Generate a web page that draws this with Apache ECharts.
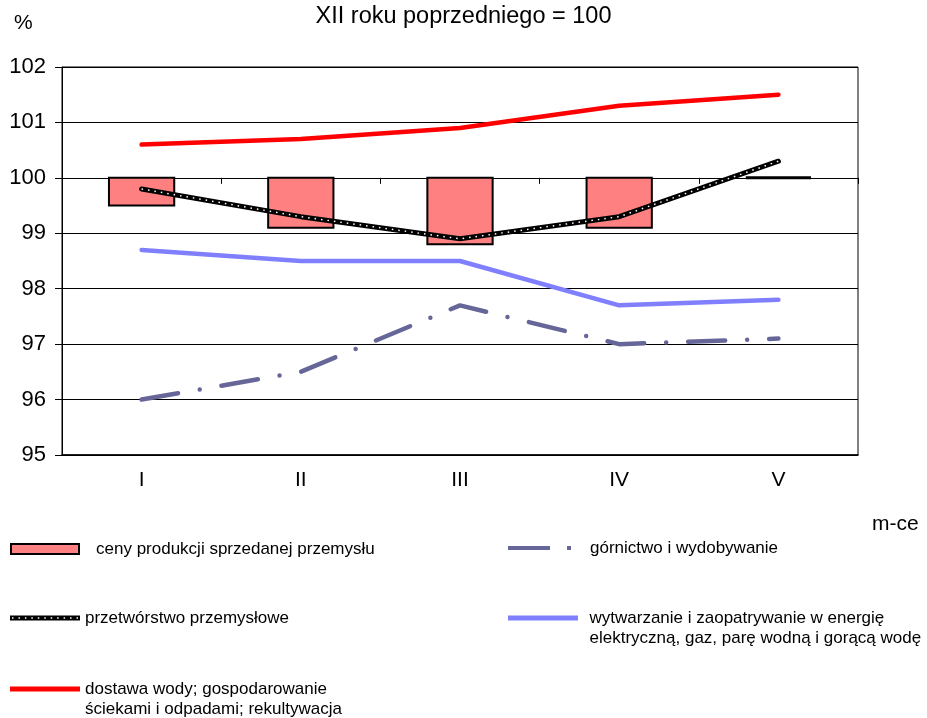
<!DOCTYPE html>
<html>
<head>
<meta charset="utf-8">
<script src="https://cdn.jsdelivr.net/npm/echarts@6/dist/echarts.min.js"></script>
<style>
html,body{margin:0;padding:0;background:#fff;}
#c{width:927px;height:718px;}
</style>
</head>
<body>
<div id="c"></div>
<script>
var categories = ['I', 'II', 'III', 'IV', 'V'];
var cenyProdukcji = [99.5, 99.1, 98.8, 99.1, 100.0];
var przetworstwo = [99.8, 99.3, 98.9, 99.3, 100.3];
var dostawaWody = [100.6, 100.7, 100.9, 101.3, 101.5];
var wytwarzanie = [98.7, 98.5, 98.5, 97.7, 97.8];
var gornictwo = [96.0, 96.5, 97.7, 97.0, 97.1];
var yTicks = [95, 96, 97, 98, 99, 100, 101, 102];
var BASE = 100;

var names = {
  ceny: 'ceny produkcji sprzedanej przemysłu',
  przetw: 'przetwórstwo przemysłowe',
  przetwDots: 'przetwórstwo przemysłowe ',
  dostawa: 'dostawa wody; gospodarowanie\nściekami i odpadami; rekultywacja',
  gorn: 'górnictwo i wydobywanie',
  wytw: 'wytwarzanie i zaopatrywanie w energię\nelektryczną, gaz, parę wodną i gorącą wodę'
};

var FONT = '"Liberation Sans", Arial, sans-serif';
var LFS = 17;
var gridTop = 67, gridH = 388, gridLeft = 62, gridW = 796;
var yMin = yTicks[0], yMax = yTicks[yTicks.length - 1];

// legend icon shapes
var barIconLine = 'path://M0,0H70V5H0Z';
var dashDotIcon = 'path://M0,0H42V4H0Z M59,0H63V4H59Z';
var dotsIcon = (function () {
  var s = 'path://';
  for (var i = 0; i <= 10; i++) {
    var x = (i * 6.45).toFixed(2);
    s += 'M' + x + ',0h1.5v1.5h-1.5Z ';
  }
  return s;
})();

var chart = echarts.init(document.getElementById('c'), null, {renderer: 'canvas'});

function lg(data, left, top, w, h, extra) {
  var o = {
    data: data,
    left: left, top: top,
    orient: 'vertical',
    padding: 0,
    itemWidth: w, itemHeight: h,
    itemGap: 0,
    selectedMode: false,
    textStyle: {fontSize: LFS, color: '#000', fontFamily: FONT, lineHeight: 20}
  };
  for (var k in extra) o[k] = extra[k];
  return o;
}
function firstLineAligned(name) { return '\n' + name; }

var option = {
  animation: false,
  backgroundColor: '#fff',
  title: [
    {text: 'XII roku poprzedniego = 100', left: 'center', top: 0,
     textStyle: {fontSize: 23.5, fontWeight: 'normal', color: '#000', fontFamily: FONT}},
    {text: '%', left: 9, top: 8,
     textStyle: {fontSize: 21, fontWeight: 'normal', color: '#000', fontFamily: FONT}},
    {text: 'm-ce', left: 867, top: 509,
     textStyle: {fontSize: 21, fontWeight: 'normal', color: '#000', fontFamily: FONT}}
  ],
  legend: [
    lg([{name: names.ceny, icon: 'rect'}], 10, 539, 68, 10, {
      textStyle: {fontSize: LFS, color: '#000', fontFamily: FONT, lineHeight: 20, padding: [0, 0, 0, 12]}
    }),
    lg([{name: names.przetw, icon: barIconLine, itemStyle: {color: '#000'}}], 10, 608, 70, 5, {}),
    lg([{name: names.przetwDots, icon: dotsIcon, itemStyle: {color: '#fff'}}], 12, 617.25, 66, 1.5, {
      formatter: function () { return ''; },
      textStyle: {fontSize: 1, lineHeight: 1}
    }),
    lg([{name: names.dostawa, icon: barIconLine, itemStyle: {color: '#FF0000'}}], 10, 659, 70, 5, {
      formatter: firstLineAligned
    }),
    lg([{name: names.gorn, icon: dashDotIcon, itemStyle: {color: '#666699'}}], 508, 538, 63, 4, {
      textStyle: {fontSize: LFS, color: '#000', fontFamily: FONT, lineHeight: 20, padding: [0, 0, 0, 14]}
    }),
    lg([{name: names.wytw, icon: barIconLine, itemStyle: {color: '#8080FF'}}], 508, 588, 71, 5, {
      formatter: firstLineAligned,
      textStyle: {fontSize: LFS, color: '#000', fontFamily: FONT, lineHeight: 20, padding: [0, 0, 0, 6]}
    })
  ],
  grid: {
    left: gridLeft, top: gridTop, width: gridW, height: gridH,
    show: true, borderColor: '#000', borderWidth: 1, backgroundColor: 'transparent'
  },
  xAxis: [
    {
      type: 'category', data: categories, position: 'bottom',
      boundaryGap: true,
      axisLine: {show: true, lineStyle: {color: '#000', width: 1.5}},
      axisTick: {show: false},
      axisLabel: {fontSize: 21, color: '#000', fontFamily: FONT, margin: 15},
      splitLine: {show: false}
    },
    {
      type: 'category', data: categories, position: 'top',
      offset: -gridH * (yMax - BASE) / (yMax - yMin),
      boundaryGap: true,
      axisLine: {show: true, lineStyle: {color: '#000', width: 1}},
      axisTick: {show: true, inside: true, length: 6, lineStyle: {color: '#000'}},
      axisLabel: {show: false},
      splitLine: {show: false}
    }
  ],
  yAxis: {
    type: 'value', min: yMin, max: yMax, interval: 1,
    axisLine: {show: true, lineStyle: {color: '#000', width: 1}},
    axisTick: {show: true, length: 7, lineStyle: {color: '#000'}},
    axisLabel: {fontSize: 22, color: '#000', fontFamily: FONT, margin: 16},
    splitLine: {show: true, lineStyle: {color: '#000', width: 1}}
  },
  series: [
    {
      name: names.ceny,
      type: 'custom',
      xAxisIndex: 0,
      itemStyle: {color: '#FF8080', borderColor: '#000', borderWidth: 2},
      encode: {x: 0, y: 1},
      data: cenyProdukcji.map(function (v, i) { return [i, v]; }),
      renderItem: function (params, api) {
        var idx = api.value(0), v = api.value(1);
        var p0 = api.coord([idx, BASE]);
        var p1 = api.coord([idx, v]);
        var w = api.size([1, 0])[0] * 0.41;
        var y = Math.min(p0[1], p1[1]);
        var h = Math.abs(p1[1] - p0[1]);
        if (h < 0.5) {
          return {type: 'line', shape: {x1: p0[0] - w / 2, y1: p0[1], x2: p0[0] + w / 2, y2: p0[1]},
                  style: {stroke: '#000', lineWidth: 3}};
        }
        return {type: 'rect', shape: {x: p0[0] - w / 2, y: y, width: w, height: h},
                style: {fill: '#FF8080', stroke: '#000', lineWidth: 2}};
      }
    },
    {
      name: names.gorn, type: 'line', data: gornictwo, symbol: 'none',
      lineStyle: {color: '#666699', width: 4.5, type: [37, 22, 0, 22], cap: 'round'},
      itemStyle: {color: '#666699'}
    },
    {
      name: names.wytw, type: 'line', data: wytwarzanie, symbol: 'none',
      lineStyle: {color: '#8080FF', width: 4.5, cap: 'round'},
      itemStyle: {color: '#8080FF'}
    },
    {
      name: names.dostawa, type: 'line', data: dostawaWody, symbol: 'none',
      lineStyle: {color: '#FF0000', width: 4.5, cap: 'round'},
      itemStyle: {color: '#FF0000'}
    },
    {
      name: names.przetw, type: 'line', data: przetworstwo, symbol: 'none',
      lineStyle: {color: '#000', width: 5, cap: 'round'},
      itemStyle: {color: '#000'}
    },
    {
      name: names.przetwDots, type: 'line', data: przetworstwo, symbol: 'none',
      lineStyle: {color: '#fff', width: 1.5, type: [1.5, 5]},
      itemStyle: {color: '#fff'}
    }
  ]
};
chart.setOption(option);
</script>
</body>
</html>
